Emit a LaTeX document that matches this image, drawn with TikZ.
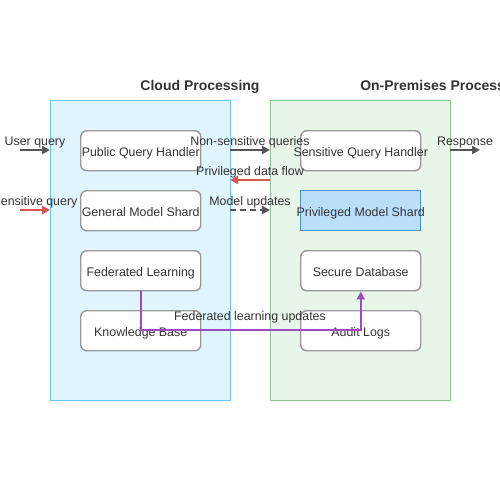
\documentclass[tikz,border=0pt]{standalone}
\usepackage{fontspec}
\setmainfont{Liberation Sans}
\usetikzlibrary{arrows.meta}
\definecolor{txt}{HTML}{333333}
\definecolor{cloudfill}{HTML}{E1F5FE}
\definecolor{cloudline}{HTML}{6CC8F2}
\definecolor{premfill}{HTML}{E8F5E9}
\definecolor{premline}{HTML}{8DC78F}
\definecolor{boxline}{HTML}{999999}
\definecolor{privfill}{HTML}{BBDEFB}
\definecolor{privline}{HTML}{4A90D9}
\definecolor{arrgray}{HTML}{555555}
\definecolor{arrred}{HTML}{D9534F}
\definecolor{arrpurple}{HTML}{9B4DC0}
\newcommand{\zbox}[1]{\makebox[0pt]{\raisebox{-1.5pt}[7pt][2pt]{#1}}}
\begin{document}
\begin{tikzpicture}[x=0.75pt,y=-0.75pt,
  every node/.style={text=txt,font=\fontsize{9.3}{10}\selectfont,inner sep=0pt},
  lab/.style={yshift=-1.2pt},
  container/.style={draw,line width=1.1pt,minimum width=135pt,minimum height=225pt,anchor=north west},
  comp/.style={draw=boxline,fill=white,rounded corners=4.5pt,line width=1.1pt,minimum width=90pt,minimum height=30pt,anchor=north west},
  title/.style={lab,font=\bfseries\fontsize{10.5}{12}\selectfont},
  tip/.style={-{Triangle[length=6pt,width=6pt]}},
  flow/.style={tip,line width=1.5pt,draw=arrgray,color=arrgray},
  redflow/.style={tip,line width=1.5pt,color=arrred},
  purpleflow/.style={tip,line width=1.5pt,color=arrpurple}]
\useasboundingbox (0,0) rectangle (500,500);
% containers
\node[container,fill=cloudfill,draw=cloudline] (cloud) at (50,100) {};
\node[container,fill=premfill,draw=premline] (prem) at (270,100) {};
\node[title] (cloudt) at (200,85) {Cloud Processing};
\node[title,anchor=west] (premt) at (360,85) {On-Premises Processing};
% components
\node[comp] (pqh) at (80,130) {\zbox{Public Query Handler}};
\node[comp] (gms) at (80,190) {\zbox{General Model Shard}};
\node[comp] (fl) at (80,250) {\zbox{Federated Learning}};
\node[comp] (kb) at (80,310) {\zbox{Knowledge Base}};
\node[comp] (sqh) at (300,130) {\zbox{Sensitive Query Handler}};
\node[comp,rounded corners=0pt,fill=privfill,draw=privline] (pms) at (300,190) {\zbox{Privileged Model Shard}};
\node[comp] (sdb) at (300,250) {\zbox{Secure Database}};
\node[comp] (al) at (300,310) {\zbox{Audit Logs}};
% coordinates on container edges
\coordinate (uin) at (20,150);
\coordinate (sin) at (20,210);
\coordinate (c150) at (230,150);
\coordinate (p150) at (270,150);
\coordinate (c180) at (230,180);
\coordinate (p180) at (270,180);
\coordinate (c210) at (230,210);
\coordinate (p210) at (270,210);
\coordinate (cl150) at (50,150);
\coordinate (cl210) at (50,210);
\coordinate (pr150) at (450,150);
\coordinate (rout) at (480,150);
% connectors
\draw[flow] (uin) -- (cl150);
\node[lab] (l1) at (35,141) {User query};
\draw[redflow] (sin) -- (cl210);
\node[lab] (l2) at (35,201) {Sensitive query};
\draw[flow] (c150) -- (p150);
\node[lab] (l3) at (250,141) {Non-sensitive queries};
\draw[redflow] (p180) -- (c180);
\node[lab] (l4) at (250,171) {Privileged data flow};
\draw[flow,dashed,dash pattern=on 4.5pt off 3pt] (c210) -- (p210);
\node[lab] (l5) at (250,201) {Model updates};
\draw[flow] (pr150) -- (rout);
\node[lab] (l6) at (465,141) {Response};
\draw[purpleflow] (fl.south) |- (250,330) -| (sdb.south);
\node[lab] (l7) at (250,316) {Federated learning updates};
\end{tikzpicture}
\end{document}
